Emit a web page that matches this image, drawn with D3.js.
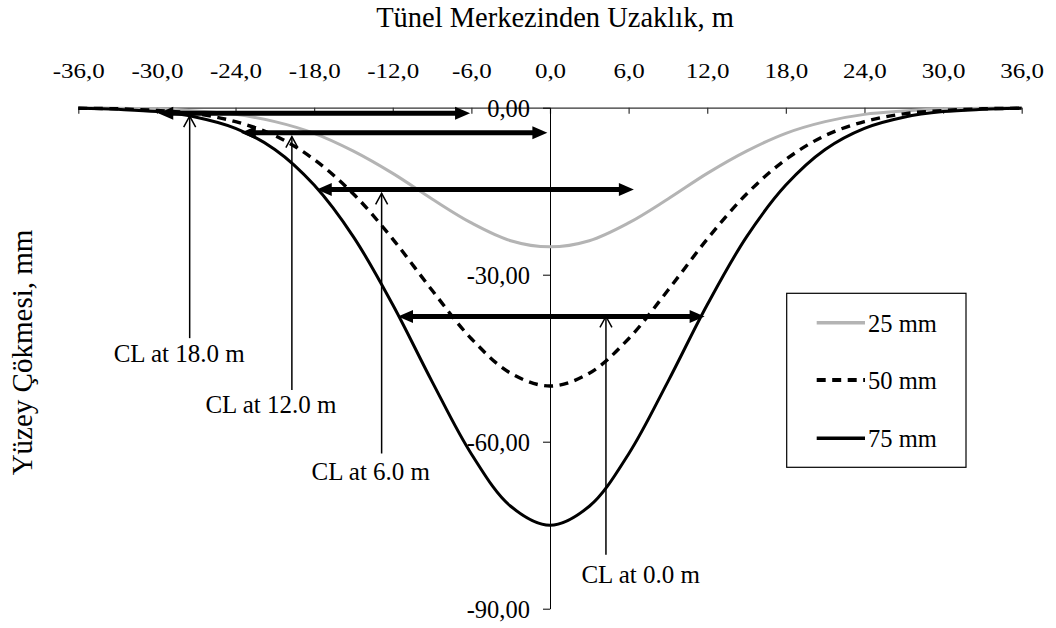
<!DOCTYPE html>
<html>
<head>
<meta charset="utf-8">
<script src="https://cdn.jsdelivr.net/npm/d3@7"></script>
<style>
  html, body { margin: 0; padding: 0; background: #fff; }
  svg { display: block; }
  text { font-family: "Liberation Serif", "Times New Roman", serif; fill: #000; }
</style>
</head>
<body>
<svg id="chart" width="1056" height="628"></svg>
<script>
// Distance from tunnel centre (m)
const distances = [-36, -33, -30, -27, -24, -21, -18, -15, -12, -9, -6, -3, 0,
                   3, 6, 9, 12, 15, 18, 21, 24, 27, 30, 33, 36];
// Surface settlement (mm) for each maximum settlement case
const settle25 = [0.0, -0.1, -0.2, -0.6, -1.2, -2.5, -4.6, -7.8, -11.8, -16.4, -20.7, -23.9, -25.0,
                  -23.9, -20.7, -16.4, -11.8, -7.8, -4.6, -2.5, -1.2, -0.6, -0.2, -0.1, 0.0];
const settle50 = [-0.1, -0.2, -0.5, -1.1, -2.5, -5.0, -9.3, -15.5, -23.6, -32.8, -41.5, -47.7, -50.0,
                  -47.7, -41.5, -32.8, -23.6, -15.5, -9.3, -5.0, -2.5, -1.1, -0.5, -0.2, -0.1];
const settle75 = [-0.1, -0.3, -0.7, -1.7, -3.7, -7.5, -13.9, -23.2, -35.4, -49.2, -62.2, -71.6, -75.0,
                  -71.6, -62.2, -49.2, -35.4, -23.2, -13.9, -7.5, -3.7, -1.7, -0.7, -0.3, -0.1];
const seriesNames = ["25 mm", "50 mm", "75 mm"];

const xTicks = [-36, -30, -24, -18, -12, -6, 0, 6, 12, 18, 24, 30, 36];
const yTicks = [0, -30, -60, -90];

// Trough width spans (m) at a given settlement level (mm)
const spanFrom = [-29.9, -23.6, -17.8, -11.6];
const spanTo   = [-6.1, -0.2, 6.4, 11.8];
const spanLevel = [-1.0, -4.5, -14.7, -37.5];

// Centre-line callouts
const calloutText = ["CL at 18.0 m", "CL at 12.0 m", "CL at 6.0 m", "CL at 0.0 m"];
const calloutX    = [-27.5, -19.7, -12.85, 4.27];
const calloutTip  = [-1.5, -5.2, -15.4, -37.5];
const calloutEnd  = [-41.4, -50.7, -62.1, -80.3];
const calloutLabelX = [-33.3, -26.3, -18.2, 2.4];
const calloutLabelY = [-45.6, -54.9, -66.8, -85.3];

const svg = d3.select("#chart");
const x = d3.scaleLinear().domain([-36, 36]).range([78.3, 1021.7]);
const y = d3.scaleLinear().domain([0, -90]).range([107.7, 608.7]);

const loc = d3.formatLocale({decimal: ",", thousands: ".", grouping: [3], currency: ["", ""], minus: "-"});
const fx = loc.format(".1f");
const fy = loc.format(".2f");

// Horizontal axis along the ground surface, labels above it
const gx = svg.append("g").attr("transform", `translate(0,${y(0)})`)
  .call(d3.axisBottom(x).tickValues(xTicks).tickSize(6).tickSizeOuter(0).tickFormat(fx));
gx.select(".domain").attr("stroke", "#333").attr("stroke-width", 1.2);
gx.selectAll(".tick line").attr("stroke", "#333").attr("stroke-width", 1.2);
gx.selectAll(".tick text")
  .attr("y", -29.5).attr("dy", 0)
  .attr("font-size", 20)
  .attr("transform", "scale(1.25,1)")
  .attr("font-family", "Liberation Serif, Times New Roman, serif");

// Vertical axis at the tunnel centre
const gy = svg.append("g").attr("transform", `translate(${x(0)},0)`)
  .call(d3.axisLeft(y).tickValues(yTicks).tickSize(7).tickSizeOuter(0).tickPadding(13).tickFormat(fy));
gy.select(".domain").attr("stroke", "#000").attr("stroke-width", 1);
gy.selectAll(".tick line").attr("stroke", "#000").attr("stroke-width", 1);
gy.selectAll(".tick text")
  .attr("dy", 9)
  .attr("font-size", 24.5)
  .attr("font-family", "Liberation Serif, Times New Roman, serif");

// Axis titles
svg.append("text").attr("x", 555).attr("y", 27)
  .attr("text-anchor", "middle").attr("font-size", 28.5)
  .text("Tünel Merkezinden Uzaklık, m");
svg.append("text")
  .attr("transform", "translate(32.3,352.5) rotate(-90)")
  .attr("text-anchor", "middle").attr("font-size", 29)
  .text("Yüzey Çökmesi, mm");

// Settlement curves
const styles = [
  {stroke: "#b4b4b4", width: 3, dash: null},
  {stroke: "#000", width: 3.4, dash: "9,6.5"},
  {stroke: "#000", width: 3, dash: null}
];
const seriesValues = [settle25, settle50, settle75];
const line = d3.line()
  .x(d => x(d[0])).y(d => y(d[1]))
  .curve(d3.curveCatmullRom.alpha(0.5));

seriesValues.forEach((vals, i) => {
  svg.append("path")
    .datum(distances.map((d, k) => [d, vals[k]]))
    .attr("fill", "none")
    .attr("stroke", styles[i].stroke)
    .attr("stroke-width", styles[i].width)
    .attr("stroke-dasharray", styles[i].dash)
    .attr("d", line);
});

// Double-headed thick arrows marking trough widths
const headLen = 15, headHalf = 6.5;
spanFrom.forEach((f, i) => {
  const x1 = x(f), x2 = x(spanTo[i]), yy = y(spanLevel[i]);
  const g = svg.append("g");
  g.append("line").attr("x1", x1 + headLen - 1).attr("x2", x2 - headLen + 1)
    .attr("y1", yy).attr("y2", yy).attr("stroke", "#000").attr("stroke-width", 5);
  g.append("path").attr("fill", "#000")
    .attr("d", `M${x1},${yy}L${x1 + headLen},${yy - headHalf}L${x1 + headLen},${yy + headHalf}Z`);
  g.append("path").attr("fill", "#000")
    .attr("d", `M${x2},${yy}L${x2 - headLen},${yy - headHalf}L${x2 - headLen},${yy + headHalf}Z`);
});

// Thin pointers with open arrowheads and their labels
calloutText.forEach((t, i) => {
  const cx = x(calloutX[i]), top = y(calloutTip[i]), bot = y(calloutEnd[i]);
  const g = svg.append("g").attr("stroke", "#000").attr("stroke-width", 1.5).attr("fill", "none");
  g.append("line").attr("x1", cx).attr("x2", cx).attr("y1", top).attr("y2", bot);
  g.append("path").attr("d", `M${cx - 6},${top + 11}L${cx},${top}L${cx + 6},${top + 11}`);
  svg.append("text").attr("x", x(calloutLabelX[i])).attr("y", y(calloutLabelY[i]))
    .attr("font-size", 25).text(t);
});

// Legend
const legend = svg.append("g");
legend.append("rect").attr("x", 786.7).attr("y", 293.3).attr("width", 179.3).attr("height", 174)
  .attr("fill", "#fff").attr("stroke", "#000").attr("stroke-width", 1.2);
const legendY = [322.7, 380, 438.3];
seriesNames.forEach((n, i) => {
  legend.append("line").attr("x1", 816.7).attr("x2", 865)
    .attr("y1", legendY[i]).attr("y2", legendY[i])
    .attr("stroke", styles[i].stroke).attr("stroke-width", styles[i].width + 0.6)
    .attr("stroke-dasharray", styles[i].dash);
  legend.append("text").attr("x", 868).attr("y", legendY[i] + 9)
    .attr("font-size", 24.5).text(n);
});
</script>
</body>
</html>
